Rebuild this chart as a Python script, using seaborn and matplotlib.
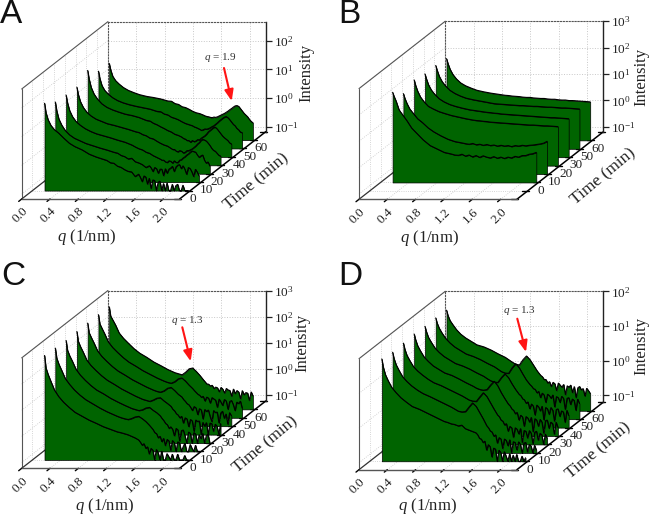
import numpy as np
import matplotlib
matplotlib.use("Agg")
import matplotlib.pyplot as plt
from matplotlib.transforms import ScaledTranslation
import seaborn as sns

# coarse grid (panel B, smooth curves)
Q_B = [.17,.19,.22,.26,.31,.37,.44,.52,.6,.7,.8,.9,
       1.0,1.05,1.1,1.15,1.2,1.25,1.3,1.35,1.4,1.45,1.5,1.55,1.6,1.65,1.7,1.75,1.8,1.85,1.9,1.95,2.0,2.05,2.1,2.15,2.2]
# finer grid at high q (panels A, C, D, noisy tails)
Q_N = [.17,.19,.22,.26,.31,.37,.44,.52,.6,.7,.8,.9,
       1.0,1.05,1.1,1.15,1.2,1.25,1.3,1.35,1.4,1.45,
       1.5,1.525,1.55,1.575,1.6,1.625,1.65,1.675,1.7,1.725,1.75,1.775,1.8,1.825,1.85,1.875,1.9,1.925,1.95,1.975,
       2.0,2.025,2.05,2.075,2.1,2.125,2.15,2.175,2.2]

# log10(intensity), front (earliest) to back (latest)
a0 = [1.87,1.55,1.3,1.1,.95,.83,.66,.48,.36,.25,.1,.0,-.08,-.12,-.2,-.22,-.32,-.36,-.44,-.5,-.52,-.68,-.6,-.72,-.86,-.66,-.7,-.95,-.74,-1.1,-.8,-.82,-1.17,-.88,-.84,-1.17,-.92,-1.17,-.9,-1.17,-1.17,-.95,-1.17,-1.0,-.95,-1.17,-1.17,-.98,-1.17,-1.17,-1.17]
a1 = [1.62,1.32,1.03,.82,.63,.48,.36,.27,.18,.1,.02,-.05,-.13,-.16,-.24,-.28,-.36,-.34,-.46,-.5,-.56,-.66,-.6,-.68,-.8,-.66,-.7,-.86,-.72,-.72,-.95,-.7,-.86,-.72,-.68,-.62,-.8,-.64,-.58,-.56,-.7,-.6,-.72,-.9,-.66,-.7,-.82,-.98,-.72,-.82,-.95]
a2 = [1.57,1.3,1.03,.82,.65,.52,.4,.3,.22,.15,.08,.0,-.07,-.12,-.17,-.24,-.3,-.34,-.42,-.46,-.54,-.6,-.66,-.7,-.7,-.76,-.78,-.72,-.74,-.8,-.72,-.78,-.78,-.7,-.68,-.62,-.58,-.52,-.48,-.42,-.38,-.4,-.42,-.52,-.6,-.55,-.52,-.7,-.8,-.76,-.9]
a3 = [1.55,1.3,1.05,.85,.68,.55,.44,.36,.28,.22,.15,.08,.0,-.03,-.1,-.14,-.22,-.25,-.33,-.4,-.46,-.5,-.58,-.62,-.62,-.68,-.7,-.66,-.68,-.74,-.72,-.66,-.66,-.63,-.6,-.55,-.5,-.43,-.38,-.3,-.27,-.29,-.33,-.4,-.48,-.58,-.65,-.68,-.75,-.82,-.85]
a4 = [1.84,1.55,1.25,1.02,.84,.68,.56,.47,.4,.32,.27,.2,.1,.08,.0,-.05,-.12,-.18,-.25,-.3,-.38,-.42,-.48,-.53,-.55,-.6,-.6,-.66,-.6,-.64,-.62,-.57,-.58,-.52,-.48,-.44,-.38,-.3,-.25,-.2,-.15,-.14,-.2,-.28,-.36,-.44,-.5,-.55,-.6,-.68,-.72]
a5 = [1.52,1.27,1.02,.85,.72,.6,.5,.42,.36,.30,.25,.2,.12,.11,.03,.0,-.08,-.12,-.17,-.24,-.3,-.34,-.38,-.42,-.44,-.47,-.5,-.54,-.52,-.49,-.5,-.48,-.45,-.41,-.38,-.33,-.28,-.22,-.17,-.12,-.08,-.06,-.1,-.17,-.25,-.33,-.38,-.47,-.52,-.6,-.62]
a6 = [1.5,1.28,1.05,.9,.78,.66,.56,.48,.41,.35,.31,.26,.19,.18,.10,.07,-.01,-.04,-.10,-.17,-.22,-.25,-.30,-.33,-.35,-.36,-.38,-.39,-.37,-.38,-.36,-.33,-.30,-.27,-.24,-.20,-.16,-.11,-.07,-.02,.02,.03,.00,-.08,-.16,-.24,-.30,-.36,-.45,-.52,-.57]

b0 = [2.22,2.07,1.88,1.56,1.37,1.15,.86,.64,.42,.2,.07,-.06,-.12,-.16,-.17,-.13,-.2,-.16,-.23,-.18,-.25,-.19,-.24,-.27,-.22,-.28,-.24,-.29,-.24,-.27,-.21,-.24,-.18,-.18,-.13,-.11,-.06]
b1 = [1.85,1.68,1.48,1.27,1.1,.9,.75,.55,.4,.25,.12,.03,-.02,-.05,-.07,-.04,-.09,-.07,-.11,-.08,-.12,-.1,-.14,-.11,-.14,-.12,-.16,-.12,-.14,-.11,-.13,-.11,-.1,-.08,-.06,-.03,.04]
b2 = [2.05,1.85,1.62,1.4,1.22,1.05,.95,.85,.78,.7,.64,.58,.53,.51,.5,.48,.47,.45,.44,.43,.42,.41,.4,.39,.38,.37,.36,.35,.34,.34,.33,.32,.31,.31,.3,.29,.28]
b3 = [1.96,1.78,1.55,1.35,1.18,1.02,.9,.8,.73,.66,.6,.56,.52,.5,.49,.47,.46,.44,.43,.42,.41,.4,.39,.38,.37,.36,.35,.34,.33,.32,.31,.3,.3,.29,.28,.27,.26]
b4 = [1.96,1.78,1.55,1.35,1.18,1.02,.9,.8,.72,.66,.61,.56,.51,.5,.49,.48,.47,.46,.45,.44,.44,.43,.42,.41,.41,.4,.39,.38,.38,.37,.36,.35,.35,.34,.33,.32,.31]
b5 = [1.9,1.72,1.5,1.3,1.13,.98,.87,.78,.7,.64,.59,.55,.51,.5,.48,.47,.46,.44,.43,.43,.41,.4,.39,.39,.37,.36,.36,.34,.33,.33,.31,.31,.3,.29,.28,.27,.26]

c0 = [2.77,2.3,2.05,1.78,1.45,1.2,.98,.78,.6,.45,.3,.18,.05,.0,-.05,-.1,-.15,-.18,-.22,-.26,-.32,-.38,-.46,-.55,-.66,-.6,-.78,-.72,-1.0,-.78,-.85,-1.22,-.82,-.95,-1.22,-.88,-1.22,-1.22,-.98,-1.1,-1.22,-1.0,-1.22,-1.22,-1.0,-1.22,-1.22,-1.22,-1.05,-1.22,-1.22]
c1 = [2.73,2.35,2.12,1.88,1.57,1.35,1.13,.93,.76,.6,.44,.3,.18,.12,.07,.03,.0,.04,.1,.12,.03,-.08,-.22,-.3,-.38,-.5,-.54,-.7,-.64,-.85,-.72,-1.0,-.76,-.82,-1.18,-.8,-.88,-1.22,-.85,-.9,-1.22,-1.05,-.9,-1.22,-1.22,-.95,-1.1,-1.22,-.98,-1.22,-1.22]
c2 = [2.7,2.33,2.12,1.9,1.6,1.38,1.18,.98,.81,.66,.49,.35,.22,.16,.1,.06,.02,.05,.12,.14,.03,-.06,-.18,-.28,-.36,-.47,-.52,-.66,-.6,-.7,-.95,-.66,-.72,-1.15,-.75,-.72,-.95,-1.22,-.8,-.85,-1.22,-.82,-.88,-1.22,-.9,-1.05,-.85,-1.22,-.95,-.88,-1.22]
c3 = [2.72,2.35,2.15,1.93,1.63,1.42,1.23,1.03,.86,.7,.53,.39,.25,.19,.13,.09,.05,.1,.17,.19,.07,-.03,-.14,-.25,-.31,-.42,-.47,-.58,-.52,-.78,-.58,-.62,-.92,-.64,-.7,-1.1,-.66,-.72,-.7,-1.2,-.75,-.9,-.76,-1.22,-.78,-.8,-1.1,-.82,-.9,-1.22,-.8]
c4 = [2.72,2.36,2.18,1.96,1.66,1.45,1.26,1.06,.89,.73,.56,.42,.28,.22,.16,.11,.08,.13,.23,.26,.14,.0,-.1,-.2,-.27,-.36,-.4,-.5,-.62,-.47,-.52,-.78,-.55,-.6,-.95,-.58,-.66,-.6,-.85,-1.05,-.62,-.7,-.68,-1.1,-.72,-.65,-.92,-.75,-1.15,-.7,-.82]
c5 = [2.72,2.37,2.2,1.98,1.68,1.47,1.28,1.08,.91,.75,.58,.44,.3,.24,.18,.13,.1,.16,.27,.3,.18,.03,-.1,-.18,-.25,-.32,-.36,-.44,-.4,-.58,-.43,-.47,-.66,-.45,-.5,-.55,-.82,-.5,-.62,-.75,-.52,-.58,-.9,-.6,-.56,-.72,-.95,-.62,-.68,-.58,-.85]
c6 = [2.7,2.35,2.2,2.0,1.7,1.5,1.31,1.1,.93,.77,.59,.45,.3,.24,.18,.14,.1,.2,.33,.36,.23,.08,-.09,-.17,-.25,-.26,-.33,-.3,-.42,-.37,-.4,-.55,-.38,-.45,-.6,-.42,-.48,-.5,-.72,-.44,-.62,-.5,-.56,-.82,-.5,-.66,-.58,-.6,-.88,-.55,-.7]

d0 = [1.75,1.52,1.3,1.12,.93,.78,.63,.5,.38,.3,.2,.1,.0,-.05,-.08,-.12,-.14,-.18,-.16,-.26,-.3,-.34,-.38,-.44,-.54,-.56,-.66,-.62,-.88,-.72,-.78,-1.08,-.82,-.85,-1.2,-.88,-.95,-1.2,-.92,-1.05,-1.2,-.98,-1.2,-1.02,-1.2,-1.0,-1.2,-1.2,-1.05,-1.2,-1.1]
d1 = [1.7,1.52,1.34,1.18,1.0,.86,.73,.61,.51,.42,.32,.22,.12,.06,.0,-.02,-.01,.12,.24,.14,-.04,-.22,-.42,-.48,-.57,-.6,-.72,-.68,-.92,-.76,-.8,-1.08,-.8,-.84,-1.0,-.82,-1.2,-.88,-.9,-1.12,-.88,-.96,-1.2,-.92,-.9,-1.18,-.96,-1.0,-1.2,-.98,-1.12]
d2 = [1.72,1.55,1.37,1.22,1.05,.92,.8,.68,.58,.5,.4,.3,.2,.14,.08,.05,.04,.17,.29,.18,.0,-.18,-.35,-.4,-.5,-.53,-.64,-.6,-.82,-.68,-.72,-1.0,-.72,-.76,-.9,-.74,-1.15,-.8,-.82,-1.02,-.8,-.88,-1.18,-.85,-.82,-1.08,-.88,-.92,-1.2,-.9,-1.02]
d3 = [1.74,1.58,1.4,1.25,1.08,.95,.82,.72,.62,.55,.45,.34,.24,.18,.14,.12,.14,.27,.38,.25,.05,-.12,-.28,-.33,-.42,-.46,-.56,-.52,-.74,-.6,-.65,-.92,-.64,-.68,-.8,-.66,-1.08,-.7,-.74,-.92,-.72,-.8,-1.12,-.76,-.74,-.98,-.8,-.84,-1.15,-.8,-.95]
d4 = [1.72,1.57,1.4,1.26,1.1,.97,.85,.75,.65,.58,.49,.38,.28,.21,.15,.11,.1,.24,.35,.24,.06,-.1,-.24,-.28,-.37,-.4,-.5,-.46,-.66,-.52,-.58,-.84,-.55,-.6,-.72,-.58,-.98,-.62,-.66,-.82,-.62,-.7,-1.02,-.68,-.66,-.88,-.72,-.75,-1.05,-.7,-.85]
d5 = [1.72,1.57,1.42,1.28,1.13,1.0,.88,.78,.68,.61,.52,.41,.31,.24,.17,.13,.12,.28,.4,.28,.1,-.07,-.2,-.25,-.32,-.34,-.44,-.4,-.58,-.45,-.5,-.72,-.48,-.52,-.6,-.5,-.85,-.55,-.58,-.72,-.54,-.6,-.92,-.6,-.58,-.78,-.62,-.66,-.95,-.62,-.75]
d6 = [1.7,1.55,1.4,1.28,1.14,1.01,.9,.8,.7,.64,.55,.44,.34,.27,.2,.14,.12,.27,.38,.27,.11,-.05,-.18,-.22,-.3,-.3,-.4,-.36,-.5,-.38,-.42,-.62,-.4,-.46,-.52,-.44,-.74,-.48,-.52,-.46,-.68,-.5,-.82,-.54,-.5,-.6,-.56,-.78,-.55,-.62,-.7]

q_ticks = [0.0, 0.4, 0.8, 1.2, 1.6, 2.0]
times_full = ["0", "10", "20", "30", "40", "50", "60"]
times_b = ["0", "10", "20", "30", "50", "60"]

sns.set_theme(style="white")
plt.rcParams.update({
    "font.family": "Liberation Serif",
    "mathtext.fontset": "custom",
    "mathtext.rm": "Liberation Serif",
    "mathtext.it": "Liberation Serif:italic",
})

W, H = 650, 515
fig = plt.figure(figsize=(W / 100, H / 100), dpi=100, facecolor="white")

SX = 70.8      # px per q unit
QMAX = 2.23
DX, DY = 10.78, 8.42   # px per depth slot
NDEPTH = 8
GREEN = "#006400"
EDGE = "#555555"
GRID = "#c8c8c8"


def rect(x0, ytop, x1, ybot):
    return [x0 / W, 1 - ybot / H, (x1 - x0) / W, (ybot - ytop) / H]


under = fig.add_axes([0, 0, 1, 1], zorder=0)
over = fig.add_axes([0, 0, 1, 1], zorder=10)
for o in (under, over):
    o.set_xlim(0, W)
    o.set_ylim(H, 0)
    o.axis("off")
    o.patch.set_visible(False)


def panel(letter, letter_xy, fl, height, lims, qgrid, series, first_slot, tlabels,
          qlabel_xy, ilabel_xy, tlabel_xy, note=None):
    fx, fy = fl
    span = QMAX * SX
    lo, hi = lims
    dec = height / (hi - lo)

    def P(q, slot, lg):
        return (fx + q * SX + slot * DX, fy - slot * DY - (lg - lo) * dec)

    # ---- back wall: real axes with the intensity scale
    bx, by = fx + NDEPTH * DX, fy - NDEPTH * DY
    back = fig.add_axes(rect(bx, by - height, bx + span, by), zorder=1)
    back.patch.set_visible(False)
    back.set_xlim(0, QMAX)
    back.set_yscale("log")
    back.set_ylim(10 ** lo, 10 ** hi)
    decades = [d for d in range(-3, 5) if lo <= d <= hi]
    back.set_yticks([10.0 ** d for d in decades])
    back.set_yticklabels([f"$10^{{{d}}}$" for d in decades], fontsize=9.5, color="#222222")
    back.minorticks_off()
    back.set_xticks(q_ticks)
    back.set_xticklabels([])
    back.yaxis.tick_right()
    back.tick_params(axis="y", right=True, left=False, length=4.5, width=0.9, color="#222222", pad=1.5)
    back.tick_params(axis="x", length=0)
    back.grid(True, which="major", ls=":", lw=0.7, color=GRID)
    for s in ("top", "left"):
        back.spines[s].set_visible(True)
        back.spines[s].set_linestyle(":")
        back.spines[s].set_linewidth(0.8)
        back.spines[s].set_color("#555555")
    back.spines["bottom"].set_visible(False)
    back.spines["right"].set_visible(True)
    back.spines["right"].set_color("#222222")
    back.spines["right"].set_linewidth(1.0)
    back.yaxis.set_label_position("right")
    back.set_ylabel("Intensity", fontsize=12, color="#222222", rotation=90, va="center", ha="center")
    back.yaxis.set_label_coords((ilabel_xy[0] - bx) / span, (by - ilabel_xy[1]) / height)

    # ---- floor and left wall
    for q in q_ticks:
        a, b = P(q, 0, lo), P(q, NDEPTH, lo)
        under.plot([a[0], b[0]], [a[1], b[1]], ls=":", lw=0.6, color=GRID)
    for k in range(1, NDEPTH):
        a, b = P(0, k, lo), P(QMAX, k, lo)
        under.plot([a[0], b[0]], [a[1], b[1]], ls=":", lw=0.6, color=GRID)
        a, b = P(0, k, lo), P(0, k, hi)
        under.plot([a[0], b[0]], [a[1], b[1]], ls=":", lw=0.6, color=GRID)
    for d in decades:
        a, b = P(0, 0, d), P(0, NDEPTH, d)
        under.plot([a[0], b[0]], [a[1], b[1]], ls=":", lw=0.6, color=GRID)
    for (p1, p2, c, w) in [
        (P(0, 0, lo), P(0, 0, hi), EDGE, 0.8),
        (P(0, 0, hi), P(0, NDEPTH, hi), EDGE, 0.8),
        (P(0, 0, lo), P(0, NDEPTH, lo), "#333333", 0.9),
        (P(QMAX, 0, lo), P(QMAX, NDEPTH, lo), "black", 1.1),
    ]:
        under.plot([p1[0], p2[0]], [p1[1], p2[1]], color=c, lw=w)
    for q in q_ticks:
        a = P(q, 0, lo)
        under.plot([a[0], a[0] - 3], [a[1], a[1] + 2.4], color="black", lw=1.0)
    for k in range(NDEPTH + 1):
        a = P(QMAX, k, lo)
        under.plot([a[0] - 5.5, a[0] + 1.5], [a[1], a[1]], color="black", lw=1.0)
    for j, lab in enumerate(tlabels):
        a = P(QMAX, first_slot + j, lo)
        over.text(a[0] - 1, a[1] + 8.3, lab, fontsize=9.5, color="#222222", ha="left", va="center")
    over.text(tlabel_xy[0], tlabel_xy[1], "Time (min)", fontsize=12.5, color="#222222",
              rotation=40, ha="center", va="center", rotation_mode="anchor")

    # ---- front plane: series and q axis
    ax = fig.add_axes(rect(fx, fy - height, fx + span, fy), zorder=2)
    ax.patch.set_visible(False)
    ax.set_yscale("log")
    base = 10.0 ** lo
    qv = np.array(qgrid)
    n = len(series)
    for i in range(n - 1, -1, -1):
        slot = first_slot + i
        shift = ax.transData + ScaledTranslation(slot * DX / 100, slot * DY / 100, fig.dpi_scale_trans)
        vals = 10.0 ** np.maximum(np.array(series[i]), lo)
        z = 3 + 2 * (n - i)
        ax.fill_between(qv, base, vals, color=GREEN, edgecolor="black", linewidth=0.5,
                        transform=shift, clip_on=False, zorder=z)
        sns.lineplot(x=qv, y=vals, ax=ax, color="black", linewidth=0.8, estimator=None,
                     sort=False, legend=False, transform=shift, clip_on=False, zorder=z + 1,
                     solid_joinstyle="miter")
    ax.set_xlim(0, QMAX)
    ax.set_ylim(10 ** lo, 10 ** hi)
    ax.minorticks_off()
    ax.set_yticks([])
    for s in ("top", "left", "right"):
        ax.spines[s].set_visible(False)
    ax.spines["bottom"].set_color(EDGE)
    ax.spines["bottom"].set_linewidth(1.0)
    ax.set_xticks(q_ticks)
    ax.set_xticklabels([f"{v:.1f}" for v in q_ticks], rotation=45, ha="right", va="top",
                       rotation_mode="anchor", fontsize=9.5, color="#222222")
    ax.tick_params(axis="x", length=0, pad=4.5)
    ax.set_xlabel("$q$ (1/nm)", fontsize=12, color="#222222", va="center", ha="center")
    ax.xaxis.set_label_coords((qlabel_xy[0] - fx) / span, (fy - qlabel_xy[1]) / height)
    ax.set_ylabel("")

    # ---- annotation and panel letter
    if note:
        text, txy, tail, head = note
        over.text(txy[0], txy[1], text, fontsize=8, color="#333333", ha="center", va="center")
        over.annotate("", xy=head, xytext=tail,
                      arrowprops=dict(arrowstyle="-|>,head_width=0.22,head_length=0.55",
                                      color="#ff1414", lw=1.5, shrinkA=0, shrinkB=0))
    over.text(letter_xy[0], letter_xy[1], letter, fontsize=24, color="#111111",
              family="Liberation Sans", ha="left", va="baseline")


panel("A", (0, 23), (21.7, 199), 110, (-1.17, 2.66), Q_N, [a0, a1, a2, a3, a4, a5, a6], 1, times_full,
      (87, 237), (306.7, 73), (256.7, 181.7),
      ("$q$ = 1.9", (220.7, 57.3), (224, 68), (231.7, 101)))
panel("B", (338, 23), (359, 199.3), 110.7, (-1.2, 3.0), Q_B, [b0, b1, b2, b3, b4, b5], 2, times_b,
      (430, 238), (641, 77), (603, 177))
panel("C", (1, 285), (21.7, 468.3), 110.4, (-1.22, 3.0), Q_N, [c0, c1, c2, c3, c4, c5, c6], 1, times_full,
      (105, 506), (302.7, 343), (265, 445),
      ("$q$ = 1.3", (187.3, 320.7), (182.3, 327.3), (190.7, 361.3)))
panel("D", (338, 285), (359, 469.7), 111, (-1.2, 2.0), Q_N, [d0, d1, d2, d3, d4, d5, d6], 1, times_full,
      (428, 506), (641, 346), (598, 451),
      ("$q$ = 1.3", (519, 310.3), (517.3, 318.7), (526, 352)))

fig.savefig("out.png", dpi=100)
